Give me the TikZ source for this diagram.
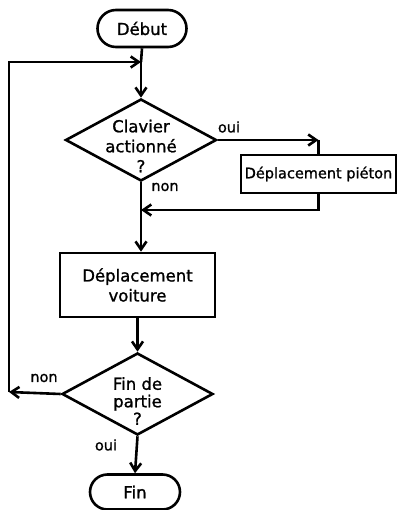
\documentclass[tikz,border=0pt]{standalone}
\usepackage{fontspec}
\setmainfont{DejaVu Sans}[FakeBold=1.2]
\usetikzlibrary{shapes.geometric}
\usetikzlibrary{shapes.misc}
\usetikzlibrary{arrows.meta}

\begin{document}
\begin{tikzpicture}[x=1pt, y=-1pt, line width=2.6pt,
    >={Straight Barb[length=8pt,width=11pt]},
    term/.style={draw, rounded rectangle, inner sep=0pt},
    stepbox/.style={draw, rectangle, inner sep=0pt, align=center},
    test/.style={draw, diamond, inner sep=0pt,
        minimum width=151pt, minimum height=82pt},
    ask/.style={align=center, inner sep=0pt},
    lab/.style={font=\fontsize{14.5}{16}\selectfont}]
\fontsize{16.5}{20}\selectfont

    \useasboundingbox (0, 0) rectangle (397, 510);

    % boxes of the chart
    \node[term, minimum width=89pt, minimum height=37pt] (debut) at (142, 28.5) {Début};
    \node[test] (clavier) at (141, 140) {};
    \node[ask] (clavierq) at (141, 146) {Clavier\\actionné\\?};
    \node[stepbox, minimum width=155pt, minimum height=38pt,
        font=\fontsize{14.5}{17}\selectfont] (pieton) at (318.5, 174) {Déplacement piéton};
    \node[stepbox, minimum width=155pt, minimum height=64pt] (voiture) at (137.5, 285) {Déplacement\\voiture};
    \node[test] (partie) at (137.5, 394) {};
    \node[ask, font=\fontsize{16.5}{17.5}\selectfont] (partieq) at (137.5, 401) {Fin de\\partie\\?};
    \node[term, minimum width=90pt, minimum height=35pt] (fin) at (135, 492) {Fin};

    % corners of the paths
    \coordinate (j1) at (141, 62);
    \coordinate (j2) at (141, 210);
    \coordinate (c1) at (9, 392);
    \coordinate (c2) at (pieton.north |- clavier.east);

    % connectors
    \draw (debut.south) -- (j1);
    \draw[->] (j1) -- (clavier.north);
    \draw[->] (clavier.east) -- (c2);
    \draw (c2) -- (pieton.north);
    \draw[->] (pieton.south) |- (j2);
    \draw[->] (clavier.south) -- (clavier.south |- voiture.north);
    \draw[->] (voiture.south) -- (partie.north);
    \draw[->] (partie.west) -- (c1);
    \draw[->] (c1) |- (j1);
    \draw[->] (partie.south) -- (fin.north);

    % answers
    \node[lab] (oui1) at (229, 127) {oui};
    \node[lab] (non1) at (165, 187) {non};
    \node[lab] (non2) at (44, 378) {non};
    \node[lab] (oui2) at (106, 445) {oui};

\end{tikzpicture}
\end{document}
